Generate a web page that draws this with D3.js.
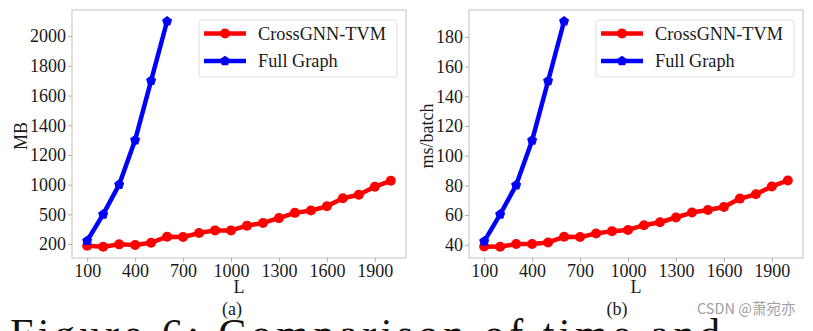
<!DOCTYPE html>
<html>
<head>
<meta charset="utf-8">
<script src="https://cdn.jsdelivr.net/npm/d3@7"></script>
<style>
  body { margin: 0; background: #fff; }
  svg { display: block; font-family: "Liberation Serif", "Times New Roman", serif; }
  .axis text { fill: #1a1a1a; font-size: 18px; font-family: "Liberation Serif", serif; }
  .axis line { stroke: #b0b0b0; }
  .axis .domain { display: none; }
</style>
</head>
<body>
<div id="chart"></div>
<script>
const lengths = [100, 200, 300, 400, 500, 600, 700, 800, 900, 1000,
  1100, 1200, 1300, 1400, 1500, 1600, 1700, 1800, 1900, 2000];
const fullLengths = [100, 200, 300, 400, 500, 600];
const xTicks = [100, 400, 700, 1000, 1300, 1600, 1900];

// (a) memory, MB — the y axis is labelled unevenly (200, 500, 1000, 1200 ...)
const memCross = [183, 173, 197, 190, 213, 274, 271, 311, 338, 338,
  386, 413, 462, 525, 565, 635, 770, 830, 965, 1026];
const memFull = [233, 500, 1000, 1300, 1700, 2100];
const memTicks = [200, 500, 1000, 1200, 1400, 1600, 1800, 2000];
const memBreaks = [200, 500, 1000, 2000];
const memBreakSteps = [0, 1, 2, 7];

// (b) time, ms/batch
const timeCross = [38.9, 38.7, 40.5, 40.5, 41.6, 45.4, 45.2, 47.6, 49.2, 50.0,
  53.2, 55.2, 58.4, 61.7, 63.4, 65.5, 71.1, 74.0, 79.3, 83.3];
const timeFull = [42.3, 60.5, 80.2, 110.3, 150.3, 190.5];
const timeTicks = [40, 60, 80, 100, 120, 140, 160, 180];
const timeBreaks = [40, 180];
const timeBreakSteps = [0, 7];

const seriesNames = ['CrossGNN-TVM', 'Full Graph'];
const colors = ['#ff0000', '#0000ff'];

const W = 813, H = 331;
const svg = d3.select('#chart').append('svg')
  .attr('width', W).attr('height', H);

const pentagon = r => {
  const pts = d3.range(5).map(i => {
    const a = -Math.PI / 2 + i * 2 * Math.PI / 5;
    return [r * Math.cos(a), r * Math.sin(a)];
  });
  return 'M' + pts.join('L') + 'Z';
};
const dot = d3.symbol(d3.symbolCircle, Math.PI * 5 * 5);

const pad = ([a, b]) => [a - (b - a) * 0.05, b + (b - a) * 0.05];

const panel = ({left, cross, full, ticks, breaks, steps, ylabel, ylabelX, tag, tagX, legendX}) => {
  const box = {left, top: 10, width: 334, height: 248};
  const g = svg.append('g').attr('transform', `translate(${box.left},${box.top})`);

  const x = d3.scaleLinear()
    .domain(pad(d3.extent(lengths)))
    .range([0, box.width]);

  // position in "tick steps", then to pixels
  const step = d3.scaleLinear().domain(breaks).range(steps);
  const allSteps = cross.concat(full).map(step);
  const pix = d3.scaleLinear().domain(pad(d3.extent(allSteps))).range([box.height, 0]);
  const y = d3.scaleLinear().domain(breaks).range(steps.map(pix));

  g.append('rect')
    .attr('width', box.width).attr('height', box.height)
    .attr('fill', 'none').attr('stroke', '#cccccc').attr('stroke-width', 1.2);

  g.append('g').attr('class', 'axis')
    .attr('transform', `translate(0,${box.height})`)
    .call(d3.axisBottom(x).tickValues(xTicks).tickSize(4).tickPadding(2).tickFormat(d3.format('d')));
  g.append('g').attr('class', 'axis')
    .call(d3.axisLeft(y).tickValues(ticks).tickSize(4).tickPadding(2).tickFormat(d3.format('d')));

  const line = d3.line().x(d => x(d[0])).y(d => y(d[1]));
  const sets = [d3.zip(lengths, cross), d3.zip(fullLengths, full)];

  sets.forEach((data, i) => {
    g.append('path').datum(data)
      .attr('d', line).attr('fill', 'none')
      .attr('stroke', colors[i]).attr('stroke-width', 4.5)
      .attr('stroke-linejoin', 'round');
    g.append('g').selectAll('path').data(data).join('path')
      .attr('transform', d => `translate(${x(d[0])},${y(d[1])})`)
      .attr('fill', colors[i])
      .attr('d', i === 0 ? dot() : pentagon(5.3));
  });

  // legend
  const lg = svg.append('g').attr('transform', `translate(${legendX},20)`);
  lg.append('rect')
    .attr('width', 198).attr('height', 57).attr('rx', 3)
    .attr('fill', '#fff').attr('fill-opacity', 0.8)
    .attr('stroke', '#dddddd');
  seriesNames.forEach((name, i) => {
    const yy = 13.5 + i * 27.5;
    lg.append('line')
      .attr('x1', 5).attr('x2', 47).attr('y1', yy).attr('y2', yy)
      .attr('stroke', colors[i]).attr('stroke-width', 4.5);
    lg.append('path')
      .attr('transform', `translate(26,${yy})`)
      .attr('fill', colors[i])
      .attr('d', i === 0 ? dot() : pentagon(5.3));
    lg.append('text')
      .attr('x', 59).attr('y', yy).attr('dy', '0.33em')
      .attr('font-size', 18.3).attr('fill', '#1a1a1a')
      .text(name);
  });

  svg.append('text')
    .attr('x', box.left + box.width / 2).attr('y', 293)
    .attr('text-anchor', 'middle').attr('font-size', 18).attr('fill', '#1a1a1a')
    .text('L');
  svg.append('text')
    .attr('transform', `translate(${ylabelX},${box.top + box.height / 2 + 2}) rotate(-90)`)
    .attr('text-anchor', 'middle').attr('font-size', 18).attr('fill', '#1a1a1a')
    .text(ylabel);
  svg.append('text')
    .attr('x', tagX).attr('y', 315)
    .attr('text-anchor', 'middle').attr('font-size', 18).attr('fill', '#1a1a1a')
    .text(tag);
};

panel({left: 72, cross: memCross, full: memFull, ticks: memTicks,
  breaks: memBreaks, steps: memBreakSteps, ylabel: 'MB', ylabelX: 27,
  tag: '(a)', tagX: 232, legendX: 199});
panel({left: 469, cross: timeCross, full: timeFull, ticks: timeTicks,
  breaks: timeBreaks, steps: timeBreakSteps, ylabel: 'ms/batch', ylabelX: 433,
  tag: '(b)', tagX: 617, legendX: 596});

svg.append('text')
  .attr('x', 10).attr('y', 348)
  .attr('font-size', 42).attr('letter-spacing', 4.5).attr('fill', '#111')
  .text('Figure 6: Comparison of time and');

svg.append('text')
  .attr('x', 697).attr('y', 314)
  .attr('font-family', '"Noto Sans CJK SC", "DejaVu Sans", sans-serif')
  .attr('font-size', 14.5).attr('fill', '#a0a0a0')
  .text('CSDN @萧宛亦');
</script>
</body>
</html>
